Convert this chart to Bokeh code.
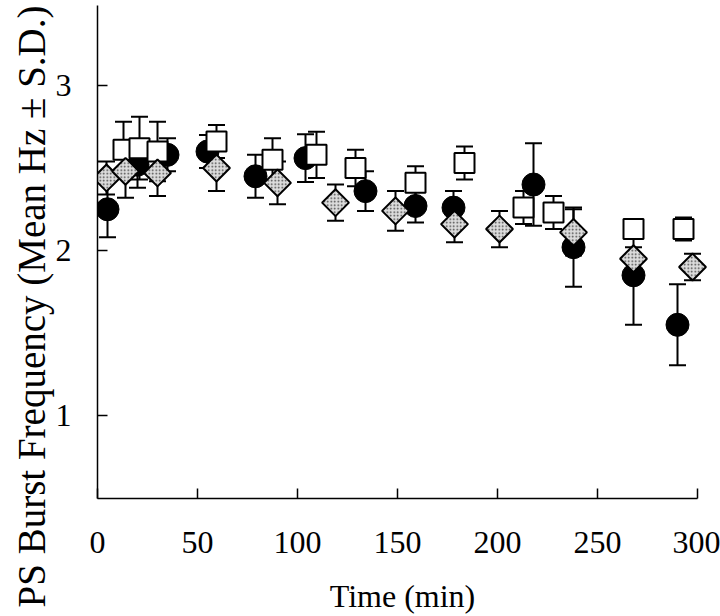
import numpy as np
from bokeh.plotting import figure
from bokeh.models import ColumnDataSource, FixedTicker, Range1d, Title
from bokeh.embed import file_html
from bokeh.resources import INLINE

# ---- data (Time in min, mean Hz, S.D.) ----
circle_t = [5, 20, 35, 55, 79, 104, 134, 159, 178, 218, 238, 268, 290]
circle_m = [2.25, 2.52, 2.58, 2.60, 2.45, 2.56, 2.36, 2.27, 2.26, 2.40, 2.02, 1.85, 1.55]
circle_sd = [0.17, 0.14, 0.10, 0.10, 0.13, 0.145, 0.12, 0.10, 0.10, 0.25, 0.24, 0.30, 0.245]

square_t = [13, 21, 30, 59.5, 87.5, 109.5, 129, 159, 183.5, 213, 228, 268, 293]
square_m = [2.61, 2.62, 2.60, 2.66, 2.55, 2.58, 2.50, 2.41, 2.53, 2.26, 2.23, 2.13, 2.13]
square_sd = [0.17, 0.19, 0.18, 0.10, 0.13, 0.14, 0.11, 0.10, 0.10, 0.10, 0.10, 0.04, 0.07]

diamond_t = [4.5, 14, 30, 59.5, 90, 119, 149, 178.5, 201, 238, 268, 297.5]
diamond_m = [2.44, 2.48, 2.47, 2.50, 2.41, 2.29, 2.24, 2.16, 2.13, 2.11, 1.95, 1.90]
diamond_sd = [0.10, 0.16, 0.14, 0.14, 0.13, 0.11, 0.12, 0.11, 0.11, 0.14, 0.07, 0.08]

x_ticks = [0, 50, 100, 150, 200, 250, 300]
y_ticks = [1, 2, 3]
x_title = "Time (min)"
y_title = "PS Burst Frequency (Mean Hz ± S.D.)"

FONT = "Liberation Serif"


def src(t, m, sd):
    m = np.array(m)
    sd = np.array(sd)
    return ColumnDataSource(dict(t=t, m=m, lo=m - sd, hi=m + sd))


sc = src(circle_t, circle_m, circle_sd)
ss = src(square_t, square_m, square_sd)
sdm = src(diamond_t, diamond_m, diamond_sd)

p = figure(width=720, height=608, output_backend="svg", toolbar_location=None,
           x_range=Range1d(0, 305), y_range=Range1d(0.497, 3.485),
           frame_width=610, frame_height=493,
           min_border_left=97, min_border_right=13, min_border_top=5, min_border_bottom=110)
p.outline_line_color = None
p.grid.visible = False
p.background_fill_color = "white"
p.border_fill_color = "white"

# error bars
for s in (sc, ss, sdm):
    p.segment(x0="t", y0="lo", x1="t", y1="hi", source=s, line_color="black", line_width=2)
    p.scatter(x="t", y="lo", source=s, marker="dash", size=17, line_color="black", line_width=2)
    p.scatter(x="t", y="hi", source=s, marker="dash", size=17, line_color="black", line_width=2)

# markers
p.scatter(x="t", y="m", source=sc, marker="circle", size=23,
          fill_color="black", line_color="black")
p.scatter(x="t", y="m", source=ss, marker="square", size=20,
          fill_color="white", line_color="black", line_width=2)
p.scatter(x="t", y="m", source=sdm, marker="square", size=19, angle=np.pi / 4,
          fill_color="#dcdcdc", line_color="black", line_width=2,
          hatch_pattern="dot", hatch_color="#444444", hatch_scale=3.5)

# axes
for ax in (p.xaxis[0], p.yaxis[0]):
    ax.major_tick_in = 10
    ax.major_tick_out = 0
    ax.minor_tick_line_color = None
    ax.axis_line_width = 1.5
    ax.major_tick_line_width = 1.5
    ax.major_label_text_font = FONT
    ax.major_label_text_font_size = "32px"
    ax.major_label_text_color = "black"
    ax.axis_label_text_font = FONT
    ax.axis_label_text_font_style = "normal"
    ax.axis_label_text_color = "black"

p.xaxis.ticker = FixedTicker(ticks=x_ticks)
p.xaxis.bounds = (0, 300)
p.xaxis.axis_label = x_title
p.xaxis.axis_label_text_font_size = "32px"
p.xaxis.major_label_standoff = 33
p.xaxis.axis_label_standoff = 22

p.yaxis.ticker = FixedTicker(ticks=y_ticks)
p.yaxis.major_label_standoff = 26

# y-axis title as a left title, shifted so it is centred on the whole figure height
p.add_layout(Title(text=y_title, align="left", offset=-109,
                   text_font=FONT, text_font_size="39px", text_font_style="normal",
                   text_color="black", standoff=0), "left")

open("out.html", "w").write(file_html(p, INLINE))
